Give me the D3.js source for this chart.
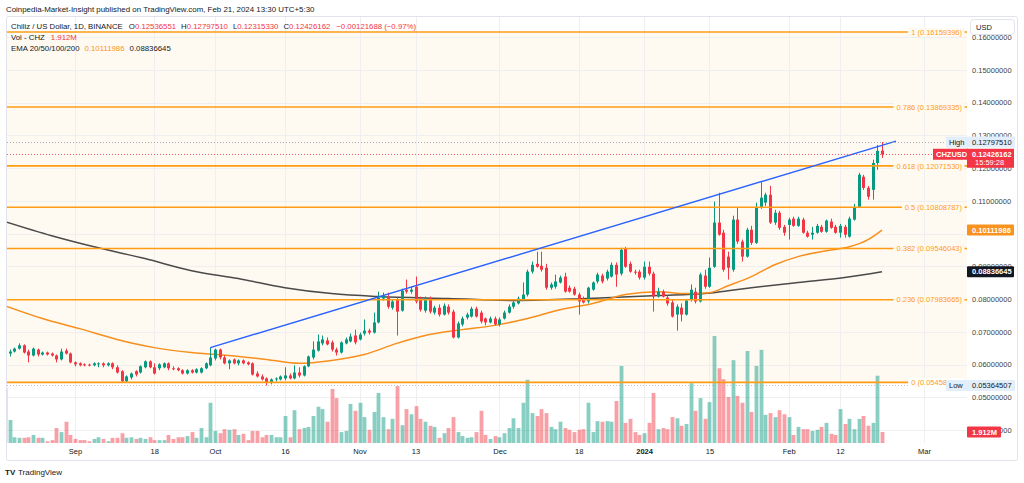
<!DOCTYPE html>
<html>
<head>
<meta charset="utf-8">
<script src="https://cdn.jsdelivr.net/npm/d3@7"></script>
<style>
  body { margin: 0; background: #fff; }
  svg { display: block; font-family: "Liberation Sans", Arial, sans-serif; }
</style>
</head>
<body>
<svg id="chart" width="1024" height="483"></svg>
<script>
// CHZUSD daily, Binance, 17 Aug 2023 - 21 Feb 2024
var firstDay = "2023-08-17";

// [open, high, low, close] one row per day
var candles = [
  [0.0683,0.0689,0.0625,0.0631],[0.0634,0.0646,0.0625,0.0640],[0.0640,0.0652,0.0637,0.0649],[0.0649,0.0665,0.0646,0.0659],
  [0.0659,0.0662,0.0634,0.0637],[0.0640,0.0646,0.0607,0.0628],[0.0628,0.0652,0.0625,0.0649],[0.0646,0.0649,0.0625,0.0631],
  [0.0631,0.0640,0.0628,0.0637],[0.0637,0.0640,0.0628,0.0631],[0.0634,0.0637,0.0625,0.0628],[0.0628,0.0631,0.0607,0.0616],
  [0.0616,0.0649,0.0613,0.0640],[0.0643,0.0649,0.0631,0.0634],[0.0634,0.0637,0.0604,0.0607],[0.0607,0.0610,0.0595,0.0601],
  [0.0604,0.0607,0.0595,0.0598],[0.0601,0.0604,0.0595,0.0598],[0.0600,0.0603,0.0595,0.0598],[0.0598,0.0607,0.0595,0.0604],
  [0.0601,0.0607,0.0592,0.0604],[0.0604,0.0607,0.0592,0.0598],[0.0598,0.0607,0.0595,0.0604],[0.0604,0.0607,0.0586,0.0592],
  [0.0592,0.0598,0.0573,0.0576],[0.0580,0.0583,0.0546,0.0549],[0.0549,0.0567,0.0546,0.0564],[0.0561,0.0576,0.0555,0.0573],
  [0.0580,0.0583,0.0564,0.0570],[0.0576,0.0598,0.0573,0.0595],[0.0592,0.0613,0.0589,0.0610],[0.0610,0.0613,0.0589,0.0592],
  [0.0592,0.0604,0.0570,0.0573],[0.0589,0.0604,0.0583,0.0601],[0.0592,0.0607,0.0589,0.0604],[0.0604,0.0607,0.0583,0.0589],
  [0.0589,0.0595,0.0583,0.0588],[0.0589,0.0592,0.0580,0.0583],[0.0583,0.0586,0.0570,0.0573],[0.0573,0.0586,0.0570,0.0583],
  [0.0583,0.0586,0.0573,0.0576],[0.0576,0.0589,0.0573,0.0586],[0.0576,0.0592,0.0573,0.0589],[0.0589,0.0607,0.0586,0.0604],
  [0.0598,0.0652,0.0595,0.0622],[0.0619,0.0649,0.0613,0.0646],[0.0646,0.0649,0.0616,0.0622],[0.0622,0.0628,0.0601,0.0604],
  [0.0604,0.0616,0.0586,0.0613],[0.0616,0.0619,0.0601,0.0604],[0.0604,0.0616,0.0598,0.0613],[0.0613,0.0616,0.0601,0.0604],
  [0.0607,0.0610,0.0598,0.0601],[0.0604,0.0607,0.0567,0.0570],[0.0573,0.0580,0.0561,0.0564],[0.0564,0.0570,0.0552,0.0555],
  [0.0558,0.0561,0.05365,0.0546],[0.0546,0.0558,0.0540,0.0555],[0.0555,0.0561,0.0549,0.0558],[0.0555,0.0567,0.0552,0.0564],
  [0.0558,0.0592,0.0552,0.0567],[0.0567,0.0573,0.0555,0.0558],[0.0558,0.0598,0.0555,0.0576],[0.0576,0.0592,0.0561,0.0567],
  [0.0567,0.0598,0.0564,0.0595],[0.0595,0.0628,0.0592,0.0625],[0.0622,0.0671,0.0616,0.0646],[0.0643,0.0692,0.0640,0.0671],
  [0.0665,0.0689,0.0659,0.0677],[0.0674,0.0683,0.0659,0.0662],[0.0668,0.0674,0.0640,0.0646],[0.0646,0.0652,0.0628,0.0637],
  [0.0637,0.0671,0.0634,0.0668],[0.0665,0.0683,0.0662,0.0677],[0.0671,0.0695,0.0668,0.0686],[0.0689,0.0707,0.0662,0.0668],
  [0.0677,0.0698,0.0674,0.0692],[0.0695,0.0738,0.0689,0.0704],[0.0704,0.0710,0.0692,0.0698],[0.0698,0.0759,0.0695,0.0729],
  [0.0729,0.0823,0.0726,0.0805],[0.0802,0.0820,0.0796,0.0811],[0.0808,0.0820,0.0771,0.0777],[0.0774,0.0799,0.0768,0.0793],
  [0.0799,0.0805,0.0689,0.0762],[0.0765,0.0832,0.0762,0.0826],[0.0829,0.0860,0.0817,0.0823],[0.0823,0.0838,0.0817,0.0829],
  [0.0838,0.0869,0.0787,0.0793],[0.0802,0.0808,0.0762,0.0768],[0.0765,0.0808,0.0759,0.0802],[0.0802,0.0808,0.0756,0.0762],
  [0.0759,0.0780,0.0753,0.0774],[0.0774,0.0784,0.0747,0.0753],[0.0753,0.0787,0.0750,0.0780],[0.0777,0.0784,0.0753,0.0759],
  [0.0762,0.0768,0.0680,0.0683],[0.0683,0.0732,0.0680,0.0726],[0.0723,0.0747,0.0717,0.0741],[0.0744,0.0759,0.0738,0.0753],
  [0.0747,0.0777,0.0744,0.0771],[0.0771,0.0777,0.0744,0.0747],[0.0759,0.0765,0.0726,0.0732],[0.0741,0.0744,0.0720,0.0729],
  [0.0729,0.0747,0.0726,0.0741],[0.0741,0.0747,0.0720,0.0723],[0.0723,0.0744,0.0717,0.0738],[0.0741,0.0765,0.0738,0.0759],
  [0.0759,0.0784,0.0756,0.0777],[0.0777,0.0796,0.0771,0.0790],[0.0787,0.0808,0.0784,0.0802],[0.0799,0.0851,0.0796,0.0814],
  [0.0814,0.0890,0.0808,0.0884],[0.0884,0.0915,0.0878,0.0905],[0.0908,0.0945,0.0896,0.0899],[0.0902,0.0945,0.0884,0.0890],
  [0.0896,0.0908,0.0829,0.0835],[0.0835,0.0851,0.0829,0.0845],[0.0838,0.0875,0.0832,0.0854],[0.0851,0.0872,0.0848,0.0866],
  [0.0869,0.0881,0.0820,0.0823],[0.0835,0.0842,0.0820,0.0823],[0.0832,0.0838,0.0811,0.0814],[0.0814,0.0820,0.0753,0.0793],
  [0.0802,0.0808,0.0787,0.0790],[0.0793,0.0838,0.0787,0.0835],[0.0829,0.0854,0.0826,0.0851],[0.0854,0.0881,0.0848,0.0875],
  [0.0872,0.0878,0.0848,0.0854],[0.0863,0.0890,0.0857,0.0884],[0.0869,0.0912,0.0866,0.0905],[0.0905,0.0912,0.0838,0.0875],
  [0.0878,0.0957,0.0872,0.0951],[0.0954,0.0960,0.0896,0.0899],[0.0908,0.0915,0.0881,0.0884],[0.0884,0.0890,0.0875,0.0881],
  [0.0884,0.0890,0.0860,0.0866],[0.0866,0.0915,0.0860,0.0899],[0.0899,0.0915,0.0872,0.0878],[0.0878,0.0884,0.0762,0.0808],
  [0.0808,0.0835,0.0805,0.0823],[0.0823,0.0829,0.0805,0.0808],[0.0805,0.0811,0.0780,0.0787],[0.0790,0.0799,0.0744,0.0747],
  [0.0753,0.0784,0.0704,0.0777],[0.0774,0.0787,0.0732,0.0753],[0.0753,0.0799,0.0750,0.0796],[0.0799,0.0845,0.0793,0.0829],
  [0.0823,0.0835,0.0787,0.0793],[0.0793,0.0881,0.0790,0.0875],[0.0872,0.0890,0.0832,0.0838],[0.0838,0.0927,0.0835,0.0896],
  [0.0899,0.1098,0.0896,0.1034],[0.1034,0.1125,0.0994,0.0997],[0.1003,0.1012,0.0884,0.0890],[0.0930,0.0945,0.0860,0.0896],
  [0.0890,0.1055,0.0884,0.1043],[0.1043,0.1079,0.0969,0.0976],[0.0976,0.0982,0.0915,0.0930],[0.0930,0.1018,0.0927,0.1012],
  [0.1012,0.1024,0.0966,0.0972],[0.0972,0.1095,0.0969,0.1082],[0.1082,0.1159,0.1076,0.1110],[0.1095,0.1125,0.1085,0.1119],
  [0.1119,0.1146,0.1030,0.1034],[0.1034,0.1073,0.1027,0.1064],[0.1064,0.1070,0.1012,0.1018],[0.1021,0.1027,0.0994,0.1003],
  [0.1027,0.1049,0.0982,0.1043],[0.1046,0.1052,0.1021,0.1024],[0.1024,0.1052,0.1021,0.1046],[0.1043,0.1049,0.1000,0.1003],
  [0.1003,0.1009,0.0988,0.0991],[0.0997,0.1021,0.0982,0.1003],[0.1003,0.1030,0.1000,0.1024],[0.1021,0.1027,0.1003,0.1006],
  [0.1006,0.1043,0.1003,0.1040],[0.1037,0.1046,0.1015,0.1018],[0.1021,0.1027,0.1000,0.1003],[0.1003,0.1030,0.0988,0.1024],
  [0.1021,0.1027,0.0988,0.0997],[0.0991,0.1052,0.0988,0.1046],[0.1043,0.1091,0.1040,0.1082],[0.1082,0.1186,0.1079,0.1180],
  [0.1174,0.1180,0.1134,0.1140],[0.1140,0.1146,0.1104,0.1113],[0.1134,0.1226,0.1104,0.1216],[0.1216,0.1271,0.1195,0.1253],
  [0.12536551,0.12797510,0.12315330,0.12426162]
];

// daily volume, millions of CHZ
var volumes = [
  9.6,4.0,1.0,0.9,0.9,1.0,1.4,0.9,0.9,0.3,0.5,2.6,1.9,3.7,1.4,0.7,0.5,0.5,0.3,0.7,
  1.0,0.7,0.3,0.9,0.9,1.7,0.9,1.0,0.7,0.9,0.7,1.0,0.5,0.5,0.5,1.4,0.7,1.0,1.0,1.2,
  1.9,0.9,2.6,1.0,7.0,2.1,1.7,2.4,2.3,2.4,1.4,1.6,0.5,2.1,2.1,1.0,1.4,1.4,1.0,1.0,
  4.7,1.0,5.7,2.4,2.6,2.8,4.7,6.3,5.9,3.7,9.4,7.8,1.9,2.1,6.8,5.6,7.0,4.5,2.3,5.4,
  8.7,4.5,2.4,4.2,9.9,3.1,5.9,5.0,6.4,4.2,3.7,3.0,2.8,0.9,1.7,2.6,4.5,1.9,1.2,0.9,
  1.0,1.9,5.6,1.4,0.7,1.2,1.0,1.7,2.6,4.3,2.6,7.0,11.0,5.2,4.7,5.9,5.2,2.8,2.4,3.7,
  2.6,2.3,1.9,2.3,2.4,7.0,1.9,3.8,3.7,3.8,3.7,7.3,13.4,3.5,4.2,1.9,1.4,1.7,3.5,8.7,
  2.4,2.6,2.4,4.5,4.3,3.0,3.3,10.4,5.6,7.8,4.2,7.1,18.6,13.0,11.1,8.0,14.4,8.2,7.0,16.0,
  5.4,13.4,16.2,4.9,5.2,4.5,5.7,5.0,4.5,1.4,2.8,2.4,2.4,2.1,2.3,2.8,3.5,1.6,1.4,5.9,
  3.3,4.2,2.4,4.2,4.7,3.0,3.5,11.7,1.912
];

var ema50Dates = ["2023-08-17","2023-08-25","2023-09-02","2023-09-10","2023-09-18","2023-09-26","2023-10-04","2023-10-12",
  "2023-10-19","2023-10-26","2023-11-02","2023-11-09","2023-11-16","2023-11-23","2023-11-30","2023-12-07","2023-12-14",
  "2023-12-21","2023-12-28","2024-01-04","2024-01-10","2024-01-15","2024-01-19","2024-01-24","2024-01-29","2024-02-03",
  "2024-02-09","2024-02-14","2024-02-18","2024-02-21"];
var ema50Values = [0.0780,0.0741,0.0710,0.0677,0.0652,0.0637,0.0628,0.0616,0.0604,0.0613,0.0631,0.0665,0.0692,0.0707,
  0.0720,0.0741,0.0768,0.0787,0.0814,0.0823,0.0817,0.0820,0.0841,0.0869,0.0905,0.0930,0.0948,0.0960,0.0982,0.10111986];

var ema200Dates = ["2023-08-17","2023-08-27","2023-09-06","2023-09-16","2023-09-26","2023-10-06","2023-10-16","2023-10-26",
  "2023-11-05","2023-11-20","2023-12-05","2023-12-20","2024-01-04","2024-01-14","2024-01-19","2024-01-24","2024-02-03",
  "2024-02-13","2024-02-21"];
var ema200Values = [0.1037,0.0994,0.0957,0.0924,0.0887,0.0863,0.0835,0.0817,0.0808,0.0802,0.0796,0.0802,0.0811,0.0817,
  0.0826,0.0835,0.0851,0.0866,0.08836645];

var fibRatios = [1, 0.786, 0.618, 0.5, 0.382, 0.236, 0];
var fibPrices = [0.16159396, 0.13869335, 0.12071530, 0.10808787, 0.09546043, 0.07983665, 0.05458178];

var trendDates = ["2023-09-30", "2024-02-24"];
var trendPrices = [0.0652, 0.1283];

var xTickDates = ["2023-09-01","2023-09-18","2023-10-01","2023-10-16","2023-11-01","2023-11-13","2023-12-01",
  "2023-12-18","2024-01-01","2024-01-15","2024-02-01","2024-02-12","2024-03-01"];
var xTickLabels = ["Sep","18","Oct","16","Nov","13","Dec","18","2024","15","Feb","12","Mar"];
// 0.10 sits fully under the EMA tag, so it is not listed
var priceTicks = [0.04,0.05,0.06,0.07,0.08,0.09,0.11,0.12,0.13,0.14,0.15,0.16];

var highPrice = 0.12797510, lowPrice = 0.05364507, lastPrice = 0.12426162;

var UP = "#089981", DOWN = "#f23645", FIB = "#ff9c14", EMA50C = "#f78f1e", EMA200C = "#4a4a4a", TREND = "#2962ff";
var TXT = "#131722", FS = "7.5px", LFS = "7.8px";

var svg = d3.select("#chart");
var plotLeft = 7, plotRight = 967, plotTop = 17, plotBottom = 443;

var parseDay = d3.utcParse("%Y-%m-%d");
var day0 = parseDay(firstDay);
var days = candles.map(function(d, i) { return d3.utcDay.offset(day0, i); });

var x = d3.scaleUtc().domain([day0, parseDay("2024-03-01")]).range([5, 5 + 4.665 * 197]);
var y = d3.scaleLinear().domain([0.05, 0.15]).range([397.4, 70]);
var yVol = d3.scaleLinear().domain([0, 20]).range([443, 328]);

svg.append("rect").attr("width", 1024).attr("height", 483).attr("fill", "#fff");

svg.append("text").attr("x", 6).attr("y", 12).attr("font-size", "7.9px").attr("fill", TXT)
  .text("Coinpedia-Market-Insight published on TradingView.com, Feb 21, 2024 13:30 UTC+5:30");

svg.append("clipPath").attr("id", "plot").append("rect")
  .attr("x", plotLeft).attr("y", plotTop).attr("width", plotRight - plotLeft).attr("height", plotBottom - plotTop);
var g = svg.append("g").attr("clip-path", "url(#plot)");

// fib background
g.append("rect").attr("x", plotLeft).attr("width", plotRight - plotLeft)
  .attr("y", y(fibPrices[0])).attr("height", y(fibPrices[6]) - y(fibPrices[0]))
  .attr("fill", "#fffaf1");

// grid
g.selectAll(".vgrid").data(xTickDates).enter().append("line")
  .attr("x1", function(d) { return Math.round(x(parseDay(d))) + 0.5; })
  .attr("x2", function(d) { return Math.round(x(parseDay(d))) + 0.5; })
  .attr("y1", plotTop).attr("y2", plotBottom).attr("stroke", "#efefef");
g.selectAll(".hgrid").data(priceTicks.concat([0.10])).enter().append("line")
  .attr("x1", plotLeft).attr("x2", plotRight)
  .attr("y1", function(d) { return Math.round(y(d)) + 0.5; })
  .attr("y2", function(d) { return Math.round(y(d)) + 0.5; })
  .attr("stroke", "#efefef");

// volume
g.selectAll(".vol").data(volumes).enter().append("rect")
  .attr("x", function(d, i) { return Math.round(x(days[i])) - 1.4; })
  .attr("width", 3.8)
  .attr("y", function(d) { return yVol(d); })
  .attr("height", function(d) { return yVol(0) - yVol(d); })
  .attr("fill", function(d, i) { return candles[i][3] >= candles[i][0] ? UP : DOWN; })
  .attr("opacity", 0.48);

// EMA lines
var emaLine = d3.line().curve(d3.curveMonotoneX)
  .x(function(d) { return x(parseDay(d[0])); })
  .y(function(d) { return y(d[1]); });
g.append("path").datum(d3.zip(ema200Dates, ema200Values))
  .attr("d", emaLine).attr("fill", "none").attr("stroke", EMA200C).attr("stroke-width", 1.5);
g.append("path").datum(d3.zip(ema50Dates, ema50Values))
  .attr("d", emaLine).attr("fill", "none").attr("stroke", EMA50C).attr("stroke-width", 1.5);

// candles
var cg = g.selectAll(".candle").data(candles).enter().append("g");
cg.append("line")
  .attr("x1", function(d, i) { return Math.round(x(days[i])) + 0.5; })
  .attr("x2", function(d, i) { return Math.round(x(days[i])) + 0.5; })
  .attr("y1", function(d) { return y(d[1]); })
  .attr("y2", function(d) { return y(d[2]); })
  .attr("stroke", function(d) { return d[3] >= d[0] ? UP : DOWN; });
cg.append("rect")
  .attr("x", function(d, i) { return Math.round(x(days[i])) - 1; })
  .attr("width", 3)
  .attr("y", function(d) { return y(Math.max(d[0], d[3])); })
  .attr("height", function(d) { return Math.max(1, Math.abs(y(d[0]) - y(d[3]))); })
  .attr("fill", function(d) { return d[3] >= d[0] ? UP : DOWN; });

// fib levels
g.selectAll(".fib").data(fibPrices).enter().append("line")
  .attr("x1", plotLeft).attr("x2", plotRight)
  .attr("y1", function(d) { return y(d); }).attr("y2", function(d) { return y(d); })
  .attr("stroke", FIB).attr("stroke-width", 1.6);

// trend line
g.append("line")
  .attr("x1", x(parseDay(trendDates[0]))).attr("y1", y(trendPrices[0]))
  .attr("x2", x(parseDay(trendDates[1]))).attr("y2", y(trendPrices[1]))
  .attr("stroke", TREND).attr("stroke-width", 1.4);

// high / last / low dotted lines
[[highPrice, "#9598a1"], [lastPrice, DOWN], [lowPrice, "#b2b5be"]].forEach(function(p) {
  g.append("line").attr("x1", plotLeft).attr("x2", plotRight)
    .attr("y1", Math.round(y(p[0])) + 0.5).attr("y2", Math.round(y(p[0])) + 0.5)
    .attr("stroke", p[1]).attr("stroke-dasharray", "1,2").attr("opacity", 0.8);
});

// fib labels
fibPrices.forEach(function(p, i) {
  var t = svg.append("text").attr("x", 962).attr("y", y(p) + 2.7)
    .attr("text-anchor", "end").attr("font-size", FS).attr("fill", FIB)
    .text(fibRatios[i] + " (" + p.toFixed(8) + ")");
  var b = t.node().getBBox();
  svg.insert("rect", function() { return t.node(); })
    .attr("x", b.x - 3).attr("y", b.y).attr("width", b.width + 5).attr("height", b.height)
    .attr("fill", i === 6 ? "#fff" : "#fffaf1");
});

// x axis
var xAxis = svg.append("g").attr("transform", "translate(0," + plotBottom + ")")
  .call(d3.axisBottom(x).tickValues(xTickDates.map(parseDay)).tickSize(0).tickPadding(6)
    .tickFormat(function(d, i) { return xTickLabels[i]; }));
xAxis.select(".domain").remove();
xAxis.selectAll("text").attr("font-size", FS).attr("fill", TXT).attr("font-family", null)
  .attr("font-weight", function(d, i) { return xTickLabels[i] === "2024" ? "bold" : null; });

// frame
svg.append("rect").attr("x", 6.5).attr("y", 16.5).attr("width", 1011).attr("height", 444).attr("rx", 2)
  .attr("fill", "none").attr("stroke", "#e0e3eb");

// price axis labels
svg.selectAll(".ptick").data(priceTicks).enter().append("text")
  .attr("x", 972).attr("y", function(d) { return y(d) + 2.7; })
  .attr("font-size", FS).attr("fill", "#3c3f47")
  .text(function(d) { return d.toFixed(8); });

function priceTag(yy, x0, w, h, fill, color, txt, bold) {
  svg.append("rect").attr("x", x0).attr("y", yy - 5.5).attr("width", w).attr("height", h).attr("rx", 1).attr("fill", fill);
  svg.append("text").attr("x", 972).attr("y", yy + 2.7).attr("font-size", FS).attr("fill", color)
    .attr("font-weight", bold ? "bold" : null).text(txt);
}

// high / low tags
[[highPrice, "High"], [lowPrice, "Low"]].forEach(function(p) {
  var yy = y(p[0]);
  svg.append("rect").attr("x", 946).attr("y", yy - 5.5).attr("width", 69).attr("height", 11).attr("fill", "#e3eefb");
  svg.append("text").attr("x", 949).attr("y", yy + 2.7).attr("font-size", FS).attr("fill", TXT).text(p[1]);
  svg.append("text").attr("x", 972).attr("y", yy + 2.7).attr("font-size", FS).attr("fill", TXT).text(p[0].toFixed(8));
});

// last price tag
var yLast = y(lastPrice);
svg.append("rect").attr("x", 933).attr("y", yLast - 5.5).attr("width", 35).attr("height", 11).attr("fill", DOWN);
svg.append("text").attr("x", 936).attr("y", yLast + 2.7).attr("font-size", FS).attr("fill", "#fff").attr("font-weight", "bold").text("CHZUSD");
svg.append("rect").attr("x", 967).attr("y", yLast - 5.5).attr("width", 47).attr("height", 19).attr("fill", DOWN);
svg.append("text").attr("x", 972).attr("y", yLast + 2.7).attr("font-size", FS).attr("fill", "#fff").attr("font-weight", "bold").text(lastPrice.toFixed(8));
svg.append("text").attr("x", 975).attr("y", yLast + 11).attr("font-size", FS).attr("fill", "#fff").text("15:59:28");

priceTag(y(ema50Values[ema50Values.length - 1]), 967, 47, 11, "#f7931e", "#fff", ema50Values[ema50Values.length - 1].toFixed(8), true);
priceTag(y(ema200Values[ema200Values.length - 1]), 967, 47, 11, "#131722", "#fff", ema200Values[ema200Values.length - 1].toFixed(8), true);
priceTag(yVol(volumes[volumes.length - 1]), 967, 34, 11, DOWN, "#fff", volumes[volumes.length - 1].toFixed(3) + "M", true);

// USD box
svg.append("rect").attr("x", 970.5).attr("y", 19.5).attr("width", 44).attr("height", 15).attr("rx", 3)
  .attr("fill", "#fff").attr("stroke", "#e0e3eb");
svg.append("text").attr("x", 976).attr("y", 29.5).attr("font-size", FS).attr("fill", TXT).text("USD");

// legend
function legendRow(yy, parts) {
  var t = svg.append("text").attr("x", 11).attr("y", yy).attr("font-size", LFS);
  parts.forEach(function(p) {
    t.append("tspan").attr("fill", p[1]).attr("dx", p[2] || 0).text(p[0]);
  });
}
var o = candles[candles.length - 1];
legendRow(28.5, [["Chiliz / US Dollar, 1D, BINANCE", TXT], ["O", TXT, 6], [o[0].toFixed(8), DOWN],
  ["H", TXT, 5], [o[1].toFixed(8), DOWN], ["L", TXT, 5], [o[2].toFixed(8), DOWN],
  ["C", TXT, 5], [o[3].toFixed(8), DOWN], ["\u22120.00121688 (\u22120.97%)", DOWN, 6]]);
legendRow(39.5, [["Vol - CHZ", TXT], ["1.912M", DOWN, 6]]);
legendRow(50.5, [["EMA 20/50/100/200", TXT], [ema50Values[ema50Values.length - 1].toFixed(8), "#f7931e", 5],
  [ema200Values[ema200Values.length - 1].toFixed(8), TXT, 5]]);

// footer logo
svg.append("text").attr("x", 5).attr("y", 475).attr("font-size", "8px").attr("font-weight", "900").attr("fill", TXT).text("TV");
svg.append("text").attr("x", 18).attr("y", 475).attr("font-size", "8px").attr("fill", TXT).text("TradingView");
</script>
</body>
</html>
